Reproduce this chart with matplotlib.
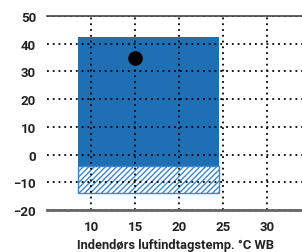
import matplotlib
matplotlib.use("Agg")
import matplotlib.pyplot as plt

# operating range (indoor WB temp vs outdoor temp)
x_range = [8.5, 24.5]
y_solid = [-4, 42.5]
y_hatched = [-14, -4]
rated_point = (15, 35)
x_ticks = [10, 15, 20, 25, 30]
y_ticks = [-20, -10, 0, 10, 20, 30, 40, 50]
xlabel = "Indendørs luftindtagstemp. °C WB"

blue = "#1f6fb4"
text_col = "#222222"

plt.rcParams["font.family"] = ["Roboto", "DejaVu Sans"]
plt.rcParams["hatch.color"] = "#3a88d0"
plt.rcParams["hatch.linewidth"] = 1.0

fig = plt.figure(figsize=(3.02, 2.53), dpi=100)
ax = fig.add_axes([0.156, 0.166, 0.844, 0.767])

w = x_range[1] - x_range[0]
ax.bar(x_range[0], y_solid[1] - y_solid[0], width=w, bottom=y_solid[0],
       align="edge", color=blue, linewidth=0, zorder=1)
ax.bar(x_range[0], y_hatched[1] - y_hatched[0], width=w, bottom=y_hatched[0],
       align="edge", facecolor="white", edgecolor="#3a88d0", hatch="//////",
       linewidth=1.0, zorder=1)

ax.plot(*rated_point, "o", color="black", markersize=9.5, zorder=4)

ax.set_xlim(5, 34)
ax.set_ylim(-20, 50)
ax.set_xticks(x_ticks)
ax.set_yticks(y_ticks)

ax.grid(True, color="black", linestyle=(0, (1, 2.2)), linewidth=1.3, zorder=3)
ax.set_axisbelow(False)

for s in ["left", "right"]:
    ax.spines[s].set_visible(False)
ax.spines["top"].set_color("#444444")
ax.spines["top"].set_linewidth(1.2)
ax.spines["bottom"].set_color("#666666")
ax.spines["bottom"].set_linewidth(2.0)
for s in ["top", "bottom"]:
    ax.spines[s].set_zorder(6)

ax.tick_params(length=0, labelsize=9.5, labelcolor=text_col, pad=7)
for lab in ax.get_xticklabels() + ax.get_yticklabels():
    lab.set_fontweight("bold")
ax.tick_params(axis="y", pad=8)

ax.set_xlabel(xlabel, fontsize=9.3, color=text_col, fontweight="bold")
ax.xaxis.set_label_coords(0.505, -0.143)

fig.savefig("out.png", dpi=100)
